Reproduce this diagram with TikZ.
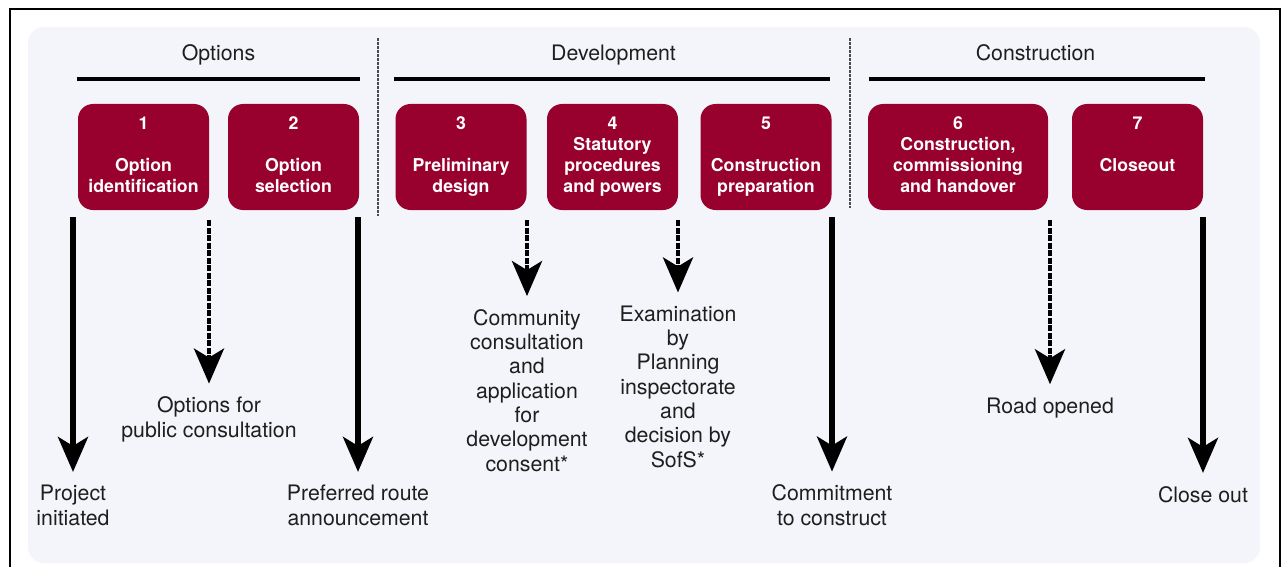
\documentclass[tikz,border=0pt]{standalone}
\usepackage{fontspec}
\setmainfont{TeX Gyre Heros}
\usetikzlibrary{arrows.meta, calc}

\definecolor{stagered}{RGB}{152,0,46}
\definecolor{panelgrey}{RGB}{244,245,250}
\definecolor{inkgrey}{RGB}{30,30,30}

\begin{document}
\begin{tikzpicture}[x=1pt, y=-1pt]
	\tikzstyle{stage}=[rectangle, rounded corners=15pt, fill=stagered,
		text=white, minimum width=131pt, minimum height=106pt, inner sep=0pt,
		align=center, font=\fontsize{17.7}{21}\selectfont\bfseries]
	\tikzstyle{phase}=[inner sep=0pt, anchor=base, text=inkgrey,
		font=\fontsize{21.3}{24.3}\selectfont]
	\tikzstyle{event}=[phase, align=center]
	\tikzstyle{milestone}=[->, >={Stealth[length=35pt, width=30pt, inset=9pt]},
		line width=5.3pt, shorten >=13pt]
	\tikzstyle{outcome}=[milestone, line width=4.7pt,
		dash pattern=on 6pt off 1.5pt]
	\tikzstyle{phaserule}=[line width=4pt]
	\tikzstyle{gate}=[line width=1.3pt, dash pattern=on 3pt off 1pt,
		draw=inkgrey!80]

	\useasboundingbox (0,0) rectangle (1285,567);
	\draw [line width=2.2pt] (10,567) -- (10,9) -- (1280,9) -- (1280,567);
	\fill [panelgrey, rounded corners=16pt] (28,27) rectangle (1260,563);

	% stages
	\node[stage] (opt1) at (143.5,157) {\strut 1\\ \strut\\ \strut Option\\
		\strut identification};
	\node[stage] (opt2) at (293.5,157) {\strut 2\\ \strut\\ \strut Option\\
		\strut selection};
	\node[stage] (dev3) at (461,157) {\strut 3\\ \strut\\ \strut Preliminary\\
		\strut design};
	\node[stage] (dev4) at (612.5,157) {\strut 4\\ \strut Statutory\\
		\strut procedures\\ \strut and powers};
	\node[stage] (dev5) at (766,157) {\strut 5\\ \strut\\ \strut Construction\\
		\strut preparation};
	\node[stage, minimum width=180pt] (con6) at (958,157) {\strut 6\\
		\strut Construction,\\ \strut commissioning\\ \strut and handover};
	\node[stage] (con7) at (1137.5,157) {\strut 7\\ \strut\\ \strut Closeout\\
		\strut};

	% phase headings
	\draw [phaserule] ($(opt1.north west)+(-1,-25)$) -- ($(opt2.north east)+(1,-25)$);
	\draw [phaserule] ($(dev3.north west)+(-1,-25)$) -- ($(dev5.north east)+(-2,-25)$);
	\draw [phaserule] ($(con6.north west)+(1,-25)$) -- ($(con7.north east)+(2,-25)$);
	\node[phase] (hdopt) at ($(opt1.north west)!.5!(opt2.north east)+(0,-43)$)
		{Options};
	\node[phase] (hddev) at ($(dev3.north west)!.5!(dev5.north east)+(0,-43)$)
		{Development};
	\node[phase] (hdcon) at ($(con6.north west)!.5!(con7.north east)+(0,-43)$)
		{Construction};
	\draw [gate] (378,38) -- (378,216);
	\draw [gate] (850,38) -- (850,208);

	% events (placed by the baseline of their last line)
	\node[event] (init) at (73,525) {Project\\initiated};
	\node[event] (consult) at (209,437) {Options for\\public consultation};
	\node[event] (route) at (358,525) {Preferred route\\announcement};
	\node[event] (consent) at (527,471) {Community\\consultation\\and\\
		application\\for\\development\\consent*};
	\node[event] (exam) at (678,467) {Examination\\by\\Planning\\inspectorate\\
		and\\decision by\\SofS*};
	\node[event] (commit) at (832,525) {Commitment\\to construct};
	\node[event] (opened) at (1050,413) {Road opened};
	\node[event] (close) at (1203,502) {Close out};

	\draw [milestone] ([yshift=-7pt]init.north |- opt1.south) -- (init.north);
	\draw [outcome] ([yshift=-10pt]consult.north |- opt1.south) -- (consult.north);
	\draw [milestone] ([yshift=-7pt]route.north |- opt2.south) -- (route.north);
	\draw [outcome] ([yshift=-10pt]consent.north |- dev3.south) -- (consent.north);
	\draw [outcome] ([yshift=-10pt]exam.north |- dev4.south) -- (exam.north);
	\draw [milestone] ([yshift=-7pt]commit.north |- dev5.south) -- (commit.north);
	\draw [outcome] ([yshift=-10pt]opened.north |- con6.south) -- (opened.north);
	\draw [milestone] ([yshift=-7pt]close.north |- con7.south) -- (close.north);
\end{tikzpicture}
\end{document}
